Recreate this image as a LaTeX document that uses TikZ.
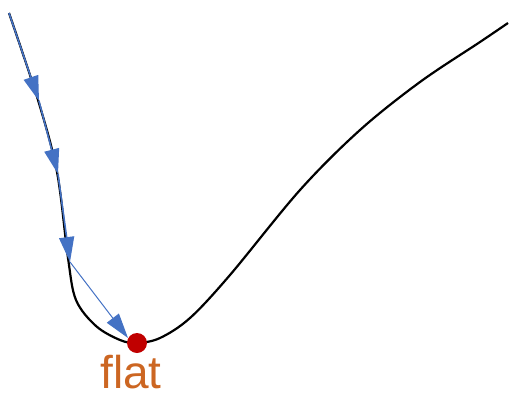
\documentclass[tikz,border=0pt]{standalone}
\usepackage{fontspec}
\setmainfont{Liberation Sans}
\usetikzlibrary{arrows.meta}
\definecolor{stepblue}{RGB}{68,114,196}
\definecolor{dotred}{RGB}{192,0,0}
\definecolor{flatorange}{RGB}{204,102,34}
\begin{document}
\begin{tikzpicture}[x=1pt,y=-1pt,
  curve/.style={line width=2.2pt, black},
  gstep/.style={line width=1.6pt, stepblue, -{Triangle[length=25pt,width=15pt]}},
  gstepthin/.style={line width=1pt, stepblue, -{Triangle[length=25pt,width=15pt]}}]
\useasboundingbox (0,0) rectangle (512,397);
\draw[curve] plot[smooth, tension=0.55] coordinates {(9,13) (38,100) (57,172) (68,258) (76,300) (96,326) (120,340) (137,343) (160,338) (190,318) (230,275) (300,190) (360,130) (420,82) (480,42) (508,23)};
\coordinate (p0) at (9,13);
\coordinate (p1) at (39,101);
\coordinate (p2) at (58,174);
\coordinate (p3) at (70,262);
\coordinate (p4) at (128,338);
\draw[gstep] (p0) -- (p1);
\draw[gstep] (p1) -- (p2);
\draw[gstep] (p2) -- (p3);
\draw[gstepthin] (p3) -- (p4);
\node[circle, fill=dotred, minimum size=20pt, inner sep=0pt] (min) at (137,343) {};
\node[text=flatorange, font=\fontsize{46}{46}\selectfont, anchor=base, inner sep=0pt] (lbl) at (131,388) {flat};
\end{tikzpicture}
\end{document}
